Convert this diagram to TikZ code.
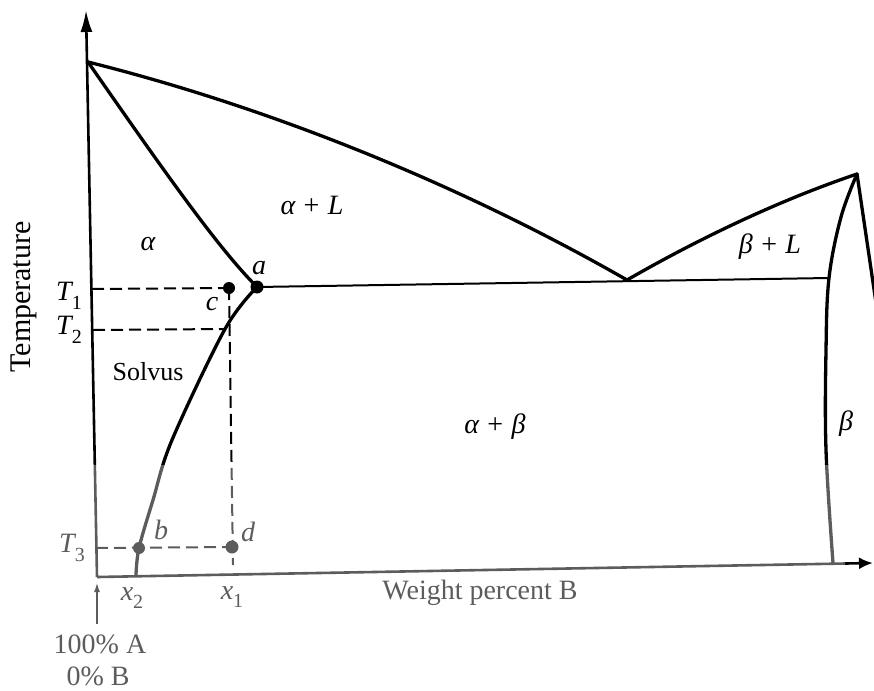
\documentclass[tikz,border=0pt]{standalone}
\usepackage{fontspec}
\setmainfont{Liberation Serif}
\usetikzlibrary{arrows.meta}
\definecolor{lowgray}{gray}{0.36}
\tikzset{
  curve/.style={line width=3.3pt, line join=round, line cap=round},
  axisline/.style={line width=2.6pt},
  guide/.style={line width=2pt, dash pattern=on 12pt off 6pt},
  thinline/.style={line width=2pt},
  lab/.style={font=\fontsize{28}{30}\selectfont\itshape, inner sep=0pt},
  txt/.style={font=\fontsize{28}{32}\selectfont, inner sep=0pt},
  soltxt/.style={font=\fontsize{26}{30}\selectfont, inner sep=0pt},
}
\newcommand\subidx[1]{\raisebox{-0.3em}{\upshape\fontsize{20}{20}\selectfont #1}}
\newcommand\plusgap{\hspace{0.3em}{\upshape +}\hspace{0.3em}}
\newcommand\diagramlines{%
  \draw[axisline,-{Latex[length=22pt,width=12pt]}] (O) -- (Ytip);
  \draw[axisline,-{Latex[length=14pt,width=12pt]}] (O) -- (Xtip);
  \draw[thinline,-{Latex[length=10pt,width=6pt]}] (Abot) -- (Atop);
  \draw[curve] (MA) .. controls (280,110) and (470,190) .. (E);
  \draw[curve] (E) .. controls (700,238) and (780,200) .. (MB);
  \draw[curve] (MA) .. controls (170,180) and (220,250) .. (a);
  \draw[curve] plot[smooth, tension=0.55] coordinates {(a) (s2) (s3) (s4) (bpt) (sb)};
  \draw[curve] plot[smooth, tension=0.6] coordinates {(MB) (r0) (r1) (r2) (r3) (rb)};
  \draw[curve] (MB) -- (Rcut);
  \draw[thinline] (a) -- (r1);
  \draw[guide] (T1a) -- (c);
  \draw[guide] (T2a) -- (s2);
  \draw[guide] (c) -- (x1a);
  \draw[guide] (T3a) -- (dpt);
  \fill (a) circle (6.5pt);
  \fill (c) circle (6pt);
  \fill (bpt) circle (6pt);
  \fill (dpt) circle (6.5pt);
}
\begin{document}
\begin{tikzpicture}[x=1pt,y=-1pt]
\useasboundingbox (0,0) rectangle (874,690);
% key points
\coordinate (O) at (97,577);
\coordinate (Ytip) at (86,10);
\coordinate (Xtip) at (873,563);
\coordinate (Abot) at (97,624);
\coordinate (Atop) at (97,582);
\coordinate (MA) at (88,62);
\coordinate (E) at (627,280);
\coordinate (MB) at (857,174);
\coordinate (Rcut) at (880,330);
\coordinate (a) at (257,287);
\coordinate (c) at (229,288);
\coordinate (s2) at (225,329);
\coordinate (s3) at (172,440);
\coordinate (s4) at (153,500);
\coordinate (bpt) at (139,548);
\coordinate (sb) at (136,575);
\coordinate (dpt) at (232,547);
\coordinate (r0) at (841,217);
\coordinate (r1) at (829,278);
\coordinate (r2) at (826,350);
\coordinate (r3) at (826,450);
\coordinate (rb) at (833,563);
\coordinate (T1a) at (92,289);
\coordinate (T2a) at (93,330);
\coordinate (T3a) at (96,548);
\coordinate (x1a) at (233,565);
% lines: upper part black, lower part grey
\begin{scope}
  \clip (0,0) -- (874,0) -- (874,690) -- (845,690) -- (845,465) -- (0,465) -- cycle;
  \diagramlines
\end{scope}
\begin{scope}[color=lowgray]
  \clip (0,465) rectangle (845,690);
  \diagramlines
\end{scope}
% labels
\node[lab] (lalpha) at (148,244) {α};
\node[lab] (laL) at (312,205) {α\plusgap L};
\node[lab] (lbL) at (770,247) {β\plusgap L};
\node[lab] (lab2) at (495,427) {α\plusgap β};
\node[lab] (lbeta) at (846,424) {β};
\node[soltxt] (lsol) at (148,372) {Solvus};
\node[lab] (la) at (259,268) {a};
\node[lab] (lc) at (212,304) {c};
\node[lab] (lT1) at (69,296) {T\subidx{1}};
\node[lab] (lT2) at (69,330) {T\subidx{2}};
\node[lab,color=lowgray] (lT3) at (72,548) {T\subidx{3}};
\node[lab,color=lowgray] (lb) at (161,530) {b};
\node[lab,color=lowgray] (ld) at (248,532) {d};
\node[lab,color=lowgray] (lx2) at (132,598) {x\subidx{2}};
\node[lab,color=lowgray] (lx1) at (232,597) {x\subidx{1}};
\node[txt,color=lowgray] (lwp) at (480,593) {Weight percent B};
\node[txt,color=lowgray] (lA) at (100,644) {100\% A};
\node[txt,color=lowgray] (lB) at (98,676) {0\% B};
\node[txt,rotate=90,font=\fontsize{30}{34}\selectfont] (ltemp) at (24,297) {Temperature};
\end{tikzpicture}
\end{document}
